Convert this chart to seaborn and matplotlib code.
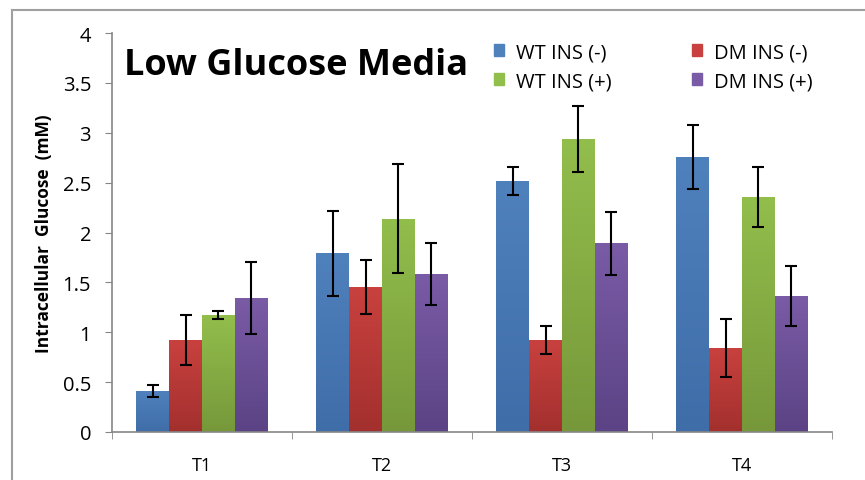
#!/usr/bin/env python3

import numpy
import pandas
import seaborn
import matplotlib.pyplot as plt
from matplotlib.colors import LinearSegmentedColormap
from matplotlib.lines import Line2D
from matplotlib.patches import Rectangle


# values
times = ['T1', 'T2', 'T3', 'T4']
wt_minus = [0.41, 1.79, 2.52, 2.76]
dm_minus = [0.92, 1.45, 0.92, 0.84]
wt_plus = [1.17, 2.14, 2.94, 2.36]
dm_plus = [1.34, 1.58, 1.89, 1.36]
wt_minus_err = [0.06, 0.43, 0.14, 0.32]
dm_minus_err = [0.25, 0.27, 0.14, 0.29]
wt_plus_err = [0.04, 0.55, 0.33, 0.30]
dm_plus_err = [0.36, 0.31, 0.32, 0.30]

# hue order as drawn: blue, red, green, purple
hue_order = ['WT INS (-)', 'DM INS (-)', 'WT INS (+)', 'DM INS (+)']
values = [wt_minus, dm_minus, wt_plus, dm_plus]
errors = [wt_minus_err, dm_minus_err, wt_plus_err, dm_plus_err]
colors = ['#4F81BD', '#C8413E', '#92BE4C', '#7A5BA6']
dark_colors = ['#3F6DA8', '#A3302E', '#76983A', '#5B4385']

rows = []
for name, vals in zip(hue_order, values):
    for t, v in zip(times, vals):
        rows.append({'time': t, 'group': name, 'glucose': v})
data = pandas.DataFrame(rows)

plt.rcParams['font.family'] = ['Open Sans', 'DejaVu Sans']

fig = plt.figure(figsize=(8.65, 4.81), dpi=100)
ax = fig.add_axes([112 / 865, 48 / 481, 720 / 865, 399 / 481])

seaborn.barplot(data=data, x='time', y='glucose', hue='group', hue_order=hue_order,
                palette=colors, width=0.73, gap=0, errorbar=None, saturation=1,
                linewidth=0, ax=ax, legend=False)

# gradient fill + error bars on top of each bar
grey = '#868686'
bar_containers = list(ax.containers)
for i, container in enumerate(bar_containers):
    cmap = LinearSegmentedColormap.from_list('g%d' % i, [dark_colors[i], colors[i]])
    for bar, err in zip(container, errors[i]):
        x0 = bar.get_x()
        w = bar.get_width()
        h = bar.get_height()
        grad = numpy.linspace(0, 1, 100).reshape(-1, 1)
        im = ax.imshow(grad, extent=[x0, x0 + w, 0, h], origin='lower', aspect='auto',
                       cmap=cmap, zorder=bar.get_zorder())
        im.set_clip_path(bar)
        ax.errorbar(x0 + w / 2, h, yerr=err, color='black', elinewidth=1.5,
                    capsize=4.5, capthick=1.5, zorder=5)

ax.set_xlim(-0.5, 3.5)
ax.set_ylim(0, 4)
ax.set_yticks(numpy.arange(0, 4.01, 0.5))
ax.set_yticklabels(['0', '0.5', '1', '1.5', '2', '2.5', '3', '3.5', '4'])
ax.set_xticks(range(4))
ax.set_xticks(numpy.arange(-0.5, 3.6, 1), minor=True)
ax.tick_params(axis='x', which='major', length=0, labelsize=13, pad=17)
ax.tick_params(axis='x', which='minor', length=5, color=grey)
ax.tick_params(axis='y', length=5, color=grey, labelsize=14.5, pad=10)
for side in ['top', 'right']:
    ax.spines[side].set_visible(False)
for side in ['left', 'bottom']:
    ax.spines[side].set_color(grey)
    ax.spines[side].set_linewidth(1.2)

ax.set_xlabel('')
ax.set_ylabel('Intracellular  Glucose  (mM)', fontsize=12.5, fontweight='bold', labelpad=7)

fig.text(124 / 865, 1 - 66 / 481, 'Low Glucose Media', fontsize=26,
         fontweight='bold', va='center', ha='left')

# legend in two columns, Excel style
handles = [Rectangle((0, 0), 1, 1, color=colors[0]), Rectangle((0, 0), 1, 1, color=colors[2]),
           Rectangle((0, 0), 1, 1, color=colors[1]), Rectangle((0, 0), 1, 1, color=colors[3])]
labels = ['WT INS (-)', 'WT INS (+)', 'DM INS (-)', 'DM INS (+)']
fig.legend(handles, labels, ncol=2, frameon=False, loc='upper left',
           bbox_to_anchor=(494 / 865, 1 - 43 / 481), fontsize=14.5,
           borderpad=0, borderaxespad=0,
           handlelength=0.5, handleheight=0.5, handletextpad=0.6,
           columnspacing=4.0, labelspacing=0.45)

# outer chart border (only top and left visible in the crop)
fig.add_artist(Line2D([12 / 865, 1], [1 - 11 / 481, 1 - 11 / 481], transform=fig.transFigure,
                      color='#A0A0A0', linewidth=1.5))
fig.add_artist(Line2D([12 / 865, 12 / 865], [0, 1 - 11 / 481], transform=fig.transFigure,
                      color='#A0A0A0', linewidth=1.5))

fig.savefig('out.png', dpi=100)
